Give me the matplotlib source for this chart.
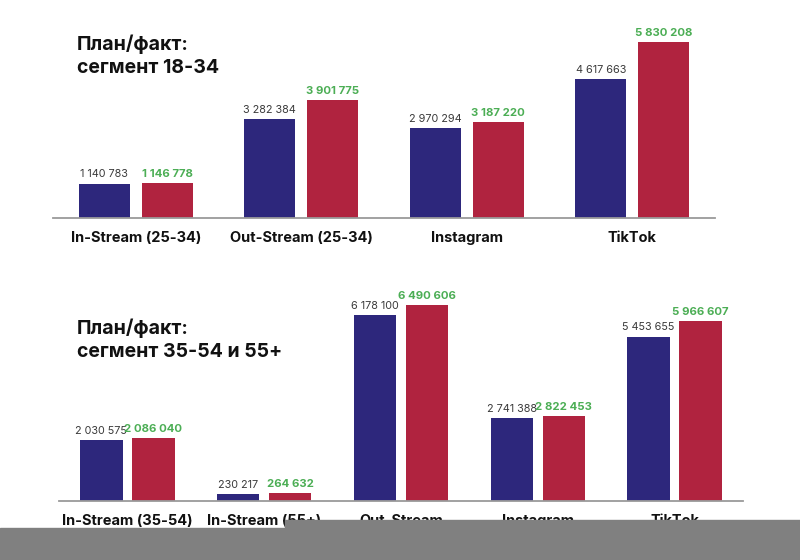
import numpy as np
import matplotlib
matplotlib.use('Agg')
import matplotlib.pyplot as plt
from matplotlib.patches import Rectangle

plt.rcParams['font.family'] = ['Inter', 'DejaVu Sans']

# segment 18-34
cats_top = ['In-Stream (25-34)', 'Out-Stream (25-34)', 'Instagram', 'TikTok']
plan_top = [1140783, 3282384, 2970294, 4617663]
fact_top = [1146778, 3901775, 3187220, 5830208]

# segment 35-54 and 55+
cats_bot = ['In-Stream (35-54)', 'In-Stream (55+)', 'Out-Stream', 'Instagram', 'TikTok']
plan_bot = [2030575, 230217, 6178100, 2741388, 5453655]
fact_bot = [2086040, 264632, 6490606, 2822453, 5966607]

titles = ['План/факт:\nсегмент 18-34', 'План/факт:\nсегмент 35-54 и 55+']

blue = '#2d277c'
red = '#b0233f'
green = '#4cae55'
W, H = 800, 560


def fmt(v):
    return f'{v:,}'.replace(',', ' ')


def draw(ax, cats, plan, fact):
    x = np.arange(len(cats))
    w, off = 0.31, 0.19
    ax.bar(x - off, plan, w, color=blue)
    ax.bar(x + off, fact, w, color=red)
    for xi, p, f in zip(x, plan, fact):
        ax.annotate(fmt(p), (xi - off, p), xytext=(0, 3), textcoords='offset points',
                    ha='center', va='bottom', fontsize=7.8, color='#3a3a3a')
        ax.annotate(fmt(f), (xi + off, f), xytext=(0, 3), textcoords='offset points',
                    ha='center', va='bottom', fontsize=8.2, color=green, fontweight='bold')
    ax.set_xlim(-0.5, len(cats) - 0.5)
    ax.set_ylim(0, 7e6)
    ax.set_xticks(x)
    ax.set_xticklabels(cats, fontsize=10.5, fontweight='bold', color='#111111')
    ax.tick_params(axis='x', length=0, pad=9.5)
    ax.set_yticks([])
    for s in ['top', 'right', 'left']:
        ax.spines[s].set_visible(False)
    ax.spines['bottom'].set_color('#9a9a9a')
    ax.spines['bottom'].set_linewidth(1.3)


fig = plt.figure(figsize=(8, 5.6), dpi=100)
ax1 = fig.add_axes([53 / W, 1 - 218 / H, 662 / W, 211 / H])
ax2 = fig.add_axes([59 / W, 1 - 501 / H, 684 / W, 211 / H])
draw(ax1, cats_top, plan_top, fact_top)
draw(ax2, cats_bot, plan_bot, fact_bot)

fig.text(77 / W, 1 - 35 / H, titles[0], fontsize=14, fontweight='bold',
         va='top', ha='left', linespacing=1.3, color='#111111')
fig.text(77 / W, 1 - 319 / H, titles[1], fontsize=14, fontweight='bold',
         va='top', ha='left', linespacing=1.3, color='#111111')

# grey band over the bottom edge
fig.add_artist(Rectangle((0, 0), 285 / W, 32 / H, transform=fig.transFigure,
                         color='#808080', zorder=10))
fig.add_artist(Rectangle((285 / W, 0), 1 - 285 / W, 40 / H, transform=fig.transFigure,
                         color='#808080', zorder=10))

fig.savefig('out.png', dpi=100)
